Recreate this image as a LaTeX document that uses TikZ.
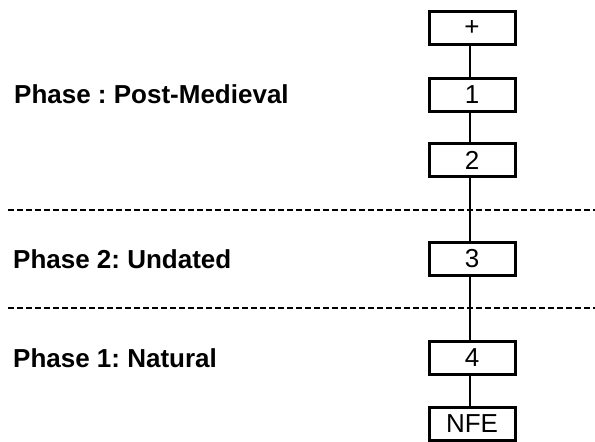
\documentclass[tikz,border=0pt]{standalone}
\usepackage{fontspec}
\setmainfont{Liberation Sans}
\frenchspacing
\begin{document}
\begin{tikzpicture}[x=1pt,y=-1pt,
  unit/.style={draw,line width=3pt,minimum width=86pt,minimum height=33pt,inner sep=0pt,font=\fontsize{26}{30}\selectfont},
  phaselabel/.style={anchor=west,inner sep=0pt,font=\bfseries\fontsize{26}{30}\selectfont},
  link/.style={line width=2.8pt},
  divider/.style={line width=2.8pt,dash pattern=on 6pt off 3pt}]
\useasboundingbox (0,0) rectangle (595,442);
\node[unit] (p) at (472,27.5) {+};
\node[unit] (u1) at (472,94.5) {1};
\node[unit] (u2) at (472,160) {2};
\node[unit] (u3) at (472,259) {3};
\node[unit] (u4) at (472,358) {4};
\node[unit] (nfe) at (472,423.5) {NFE};
\foreach \a/\b in {p/u1,u1/u2,u2/u3,u3/u4,u4/nfe}
  \draw[link] ([xshift=-2pt]\a.south) -- ([xshift=-2pt]\b.north);
\coordinate (d1l) at (8,210); \coordinate (d1r) at (595,210);
\coordinate (d2l) at (8,308); \coordinate (d2r) at (595,308);
\draw[divider] (d1l) -- (d1r);
\draw[divider] (d2l) -- (d2r);
\node[phaselabel,anchor=base west] (l1) at (14,103) {Phase : Post-Medieval};
\node[phaselabel,anchor=base west] (l2) at (13,268) {Phase 2: Undated};
\node[phaselabel,anchor=base west] (l3) at (13,367) {Phase 1: Natural};
\end{tikzpicture}
\end{document}
